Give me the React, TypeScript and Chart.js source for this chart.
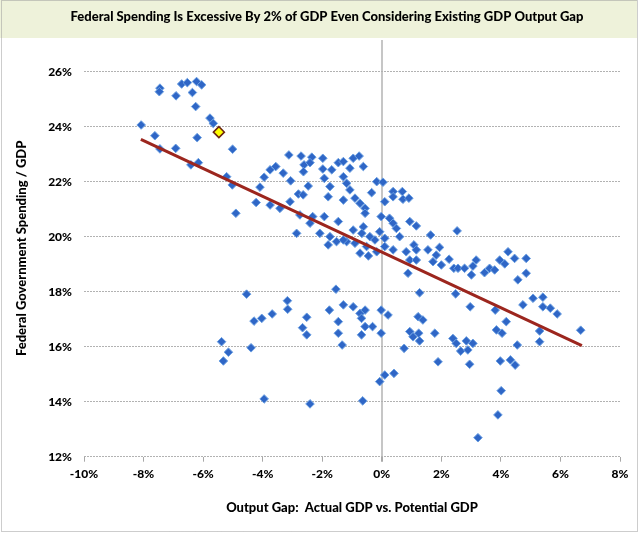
import React, { useEffect, useRef } from "react";
import { Chart, registerables } from "chart.js";

Chart.register(...registerables);

// Output gap (% of potential GDP) for each observation
const gapX: number[] = [
  -8.08, -7.45, -7.47, -7.62, -7.45, -6.92, -6.91, -6.72, -6.53, -6.22,
  -6.05, -6.36, -6.25, -5.77, -5.66, -6.20, -6.41, -6.16, -5.01, -5.21,
  -5.02, -4.90, -4.22, -4.09, -3.95, -3.75, -3.56, -3.75, -3.31, -3.12,
  -3.06, -3.42, -3.08, -2.86, -2.80, -2.71, -2.64, -2.75, -2.47, -2.61,
  -2.35, -2.41, -2.63, -2.41, -2.32, -1.98, -1.98, -1.93, -1.74, -1.80,
  -1.93, -2.08, -1.74, -1.52, -1.80, -1.68, -1.46, -1.29, -1.07, -0.96,
  -0.76, -0.62, -1.29, -1.18, -1.07, -1.29, -0.90, -0.73, -0.56, -0.56,
  -0.34, -0.17, -0.96, -0.62, -0.40, -0.23, -1.18, -0.73, -0.17, -1.46,
  -0.67, -1.29, -0.90, -0.51, -0.45,
  0.04, 0.38, 0.38, 0.69, 0.71, 0.91, 0.10, -0.02, 0.26, 0.38,
  0.49, 0.60, 0.94, 1.16, -0.07, 0.10, 0.10, 0.38, 0.82, 1.08,
  1.16, 1.64, 2.53, 1.55, 1.94, 1.83, 0.94, 1.16, 0.88, 1.72,
  2.00, 2.26, 2.42, 2.56, 2.78, 3.01, 3.17, 3.06, 3.45, 3.62,
  3.79, 3.96, 4.13, 4.24, 4.46, 4.85, 4.85, 4.57, 1.27, 2.48,
  2.97, 3.81, 4.74, 5.08, 5.41, 5.41, 5.66, 5.89, 4.18, 6.68,
  -0.02, 0.21, 1.22, 1.38,
  -0.02, 0.94, 1.05, 1.24, 1.27, 1.78, 0.75, 2.39, 2.50, 2.65,
  2.84, 3.06, 2.89, 1.89, 2.95, 3.85, 4.04, 4.55, 5.30, 5.30,
  3.98, 4.32, 4.48, 4.01, 3.90, 3.23, 0.10, 0.41, -0.07,
  -4.54, -5.38, -5.15, -5.32, -4.39, -4.29, -4.03, -3.68, -3.17, -3.16,
  -2.52, -2.66, -2.52, -3.95, -2.41, -0.64, -1.54, -1.76, -1.29, -0.96,
  -1.46, -1.46, -1.33, -0.73, -0.56, -0.68, -0.56, -0.68, -0.31,
];

// Federal government spending (% of GDP) for each observation
const spendY: number[] = [
  24.06, 25.40, 25.27, 23.67, 23.19, 23.21, 25.12, 25.55, 25.60, 25.64,
  25.52, 25.24, 24.73, 24.31, 24.12, 23.60, 22.61, 22.69, 23.18, 22.18,
  21.88, 20.85, 21.24, 21.80, 22.16, 22.43, 22.55, 21.15, 22.31, 22.97,
  22.03, 21.03, 21.27, 20.12, 21.55, 22.93, 21.52, 20.79, 21.84, 22.61,
  22.89, 22.69, 22.36, 20.49, 20.73, 22.85, 22.46, 22.12, 21.82, 21.45,
  20.73, 20.12, 20.00, 19.82, 19.70, 22.43, 22.69, 22.73, 22.49, 22.85,
  22.93, 22.55, 22.18, 21.94, 21.70, 21.33, 21.40, 21.21, 21.03, 20.85,
  21.60, 22.00, 20.24, 20.36, 20.00, 19.88, 19.82, 19.40, 19.45, 20.55,
  20.12, 19.88, 19.76, 19.64, 19.30,
  21.98, 21.64, 21.45, 21.64, 21.36, 21.40, 21.27, 20.73, 20.67, 20.49,
  20.30, 20.00, 20.55, 20.39, 20.18, 19.94, 19.64, 19.52, 19.45, 19.70,
  19.52, 20.06, 20.21, 19.52, 19.61, 19.33, 19.15, 19.15, 18.67, 19.09,
  18.97, 19.18, 18.85, 18.85, 18.85, 18.61, 19.15, 18.93, 18.69, 18.85,
  18.79, 19.15, 19.01, 19.45, 19.21, 19.21, 18.67, 18.43, 17.96, 17.92,
  17.45, 17.33, 17.52, 17.76, 17.80, 17.45, 17.40, 17.19, 16.91, 16.60,
  17.33, 17.15, 17.09, 16.97,
  16.49, 16.55, 16.36, 16.49, 16.21, 16.49, 15.94, 16.30, 16.12, 15.84,
  16.21, 16.12, 15.88, 15.45, 15.36, 16.61, 16.49, 16.06, 16.57, 16.18,
  15.48, 15.52, 15.33, 14.40, 13.52, 12.69, 14.97, 15.03, 14.73,
  17.91, 16.18, 15.80, 15.48, 15.96, 16.93, 17.03, 17.19, 17.67, 17.36,
  17.07, 16.69, 16.43, 14.10, 13.92, 14.03, 18.09, 17.33, 17.52, 17.45,
  16.91, 16.49, 16.06, 17.21, 17.33, 17.03, 16.73, 16.43, 16.73,
];

// Highlighted (current) observation
const highlightX: number[] = [-5.47];
const highlightY: number[] = [23.8];

// Linear trendline end points
const trendX: number[] = [-8.09, 6.72];
const trendY: number[] = [23.54, 16.04];

const xTickValues: number[] = [-10, -8, -6, -4, -2, 0, 2, 4, 6, 8];
const yTickValues: number[] = [12, 14, 16, 18, 20, 22, 24, 26];

const titleText = "Federal Spending Is Excessive By 2% of GDP Even Considering Existing GDP Output Gap";
const xTitle = "Output Gap:  Actual GDP vs. Potential GDP";
const yTitle = "Federal Government Spending / GDP";

const FONT = "Lato, 'Open Sans', 'DejaVu Sans', sans-serif";
const WEIGHT = "900";

const framePlugin = {
  id: "frame",
  beforeDraw(chart: any) {
    const { ctx, width, height } = chart;
    ctx.save();
    ctx.fillStyle = "#ffffff";
    ctx.fillRect(0, 0, width, height);
    ctx.fillStyle = "#eef2da";
    ctx.fillRect(0, 0, width - 3, 38);
    ctx.fillStyle = "#000000";
    ctx.font = `${WEIGHT} 13px ${FONT}`;
    ctx.textAlign = "center";
    ctx.textBaseline = "middle";
    ctx.fillText(titleText, 327, 17);
    ctx.restore();
  },
  afterDraw(chart: any) {
    const { ctx, width, height } = chart;
    ctx.save();
    ctx.strokeStyle = "#9a9a9a";
    ctx.lineWidth = 1;
    ctx.setLineDash([1, 1]);
    ctx.strokeRect(1.5, 0.5, width - 4, height - 2);
    ctx.restore();
  },
};

export default function App() {
  const canvasRef = useRef<HTMLCanvasElement | null>(null);

  useEffect(() => {
    if (!canvasRef.current) return;
    const points = gapX.map((x, i) => ({ x, y: spendY[i] }));
    const hl = highlightX.map((x, i) => ({ x, y: highlightY[i] }));
    const trend = trendX.map((x, i) => ({ x, y: trendY[i] }));

    const chart = new Chart(canvasRef.current, {
      type: "scatter",
      data: {
        datasets: [
          {
            label: "Current",
            data: hl,
            pointStyle: "rectRot",
            pointRadius: 5.5,
            backgroundColor: "#ffff00",
            borderColor: "#6b2410",
            borderWidth: 1.5,
          },
          {
            type: "line",
            label: "Trend",
            data: trend,
            borderColor: "#9c261e",
            borderWidth: 3,
            pointRadius: 0,
            showLine: true,
            fill: false,
          } as any,
          {
            label: "Observations",
            data: points,
            pointStyle: "rectRot",
            pointRadius: 4.3,
            backgroundColor: "#2f66c6",
            borderColor: "#6a9fe2",
            borderWidth: 1,
          },
        ],
      },
      options: {
        animation: false,
        responsive: false,
        devicePixelRatio: 1,
        layout: { padding: { top: 40, right: 20, left: 0, bottom: 0 } },
        plugins: {
          legend: { display: false },
          tooltip: { enabled: false },
          title: { display: false },
        },
        scales: {
          x: {
            type: "linear",
            min: -10,
            max: 8,
            afterBuildTicks: (s: any) => {
              s.ticks = xTickValues.map((v) => ({ value: v }));
            },
            afterFit: (s: any) => {
              s.height = 76.3;
            },
            ticks: {
              callback: (v: any) => `${v}%`,
              color: "#000",
              font: { family: FONT, size: 12, weight: WEIGHT },
              padding: 5,
              maxRotation: 0,
            },
            grid: {
              color: (c: any) => (c.tick && c.tick.value === 0 ? "#c6c6c6" : "rgba(0,0,0,0)"),
              lineWidth: (c: any) => (c.tick && c.tick.value === 0 ? 2 : 1),
              tickColor: "#a8a8a8",
              tickLength: 5,
              drawTicks: true,
            },
            border: { display: false },
            title: {
              display: true,
              text: xTitle,
              color: "#000",
              font: { family: FONT, size: 13, weight: WEIGHT },
              padding: { top: 0, bottom: 17 },
            },
          },
          y: {
            type: "linear",
            min: 12,
            max: 27.15,
            afterBuildTicks: (s: any) => {
              s.ticks = yTickValues.map((v) => ({ value: v }));
            },
            afterFit: (s: any) => {
              s.width = 84;
            },
            ticks: {
              callback: (v: any) => `${v}%`,
              color: "#000",
              font: { family: FONT, size: 12, weight: WEIGHT },
              padding: 12,
            },
            grid: {
              color: "#b2b2b2",
              lineWidth: 1,
              drawTicks: false,
            },
            border: { display: false, dash: [2, 1] },
            title: {
              display: true,
              text: yTitle,
              color: "#000",
              font: { family: FONT, size: 13, weight: WEIGHT },
              padding: { top: 14, bottom: 0 },
            },
          },
        },
      },
      plugins: [framePlugin],
    });
    return () => chart.destroy();
  }, []);

  return (
    <div style={{ position: "absolute", left: 0, top: 0, width: 640, height: 533 }}>
      <canvas ref={canvasRef} width={640} height={533} style={{ width: 640, height: 533 }} />
    </div>
  );
}
